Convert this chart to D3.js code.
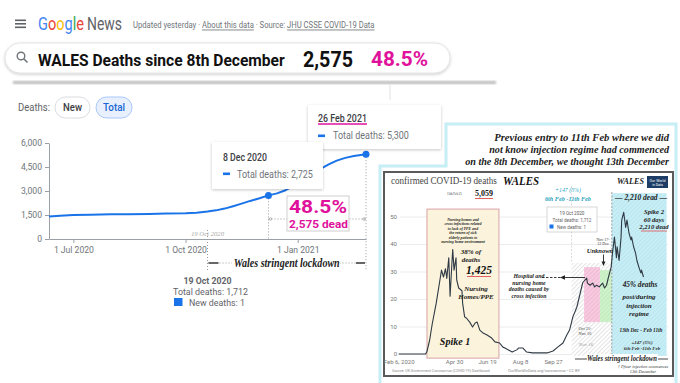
<!DOCTYPE html>
<html><head><meta charset="utf-8">
<script src="https://cdnjs.cloudflare.com/ajax/libs/d3/7.8.5/d3.min.js"></script>
<style>
html,body{margin:0;padding:0;background:#fff;overflow:hidden;}
svg{display:block;}
</style></head><body>
<svg id="c" width="680" height="383"></svg>
<script>
// ===== Main chart (Google News / JHU total deaths, Wales) =====
const mainDates = ["2020-06-11","2020-06-20","2020-07-01","2020-07-15","2020-08-01","2020-08-15","2020-09-01","2020-09-15","2020-10-01","2020-10-10","2020-10-19","2020-10-26","2020-11-02","2020-11-09","2020-11-16","2020-11-23","2020-11-30","2020-12-08","2020-12-15","2020-12-22","2020-12-29","2021-01-05","2021-01-12","2021-01-19","2021-01-26","2021-02-02","2021-02-09","2021-02-16","2021-02-26"];
const mainTotals = [1400,1460,1495,1520,1540,1550,1570,1590,1610,1640,1712,1790,1900,2050,2210,2380,2530,2725,2850,3050,3330,3650,4000,4350,4650,4900,5070,5190,5300];
const mainYTicks = [0,1500,3000,4500,6000];
const mainXTicks = ["2020-07-01","2020-10-01","2021-01-01"];
const mainXTickLabels = ["1 Jul 2020","1 Oct 2020","1 Jan 2021"];
const highlightDates = ["2020-12-08","2021-02-26"];
const highlightTotals = [2725,5300];
const markerDate = "2020-10-19";

// ===== Inset chart (daily confirmed COVID-19 deaths, Wales) =====
const insetDates = ["2020-02-06","2020-03-18","2020-03-20","2020-03-24","2020-03-28","2020-04-03","2020-04-08","2020-04-11","2020-04-14","2020-04-17","2020-04-19","2020-04-22","2020-04-24","2020-04-27","2020-04-28","2020-04-30","2020-05-03","2020-05-04","2020-05-07","2020-05-12","2020-05-13","2020-05-16","2020-05-19","2020-05-24","2020-05-28","2020-06-01","2020-06-04","2020-06-08","2020-06-13","2020-06-19","2020-06-26","2020-07-01","2020-07-08","2020-07-13","2020-07-16","2020-07-27","2020-08-03","2020-08-06","2020-08-12","2020-08-18","2020-08-27","2020-09-07","2020-09-18","2020-09-27","2020-10-04","2020-10-12","2020-10-18","2020-10-22","2020-10-27","2020-11-02","2020-11-07","2020-11-11","2020-11-17","2020-11-18","2020-11-22","2020-11-26","2020-11-29","2020-12-02","2020-12-06","2020-12-11","2020-12-14","2020-12-17","2020-12-20","2020-12-24","2020-12-26","2020-12-29","2021-01-01","2021-01-02","2021-01-05","2021-01-08","2021-01-09","2021-01-12","2021-01-15","2021-01-17","2021-01-20","2021-01-23","2021-01-24","2021-01-27","2021-01-30","2021-02-01","2021-02-04","2021-02-07","2021-02-08","2021-02-11"];
const insetDeaths = [0,0,1,5,11,18.5,26,30.5,28,31,27.5,35,21,34,38,30.5,35,27,24,23,18.5,13.5,13,11.5,9.8,11.3,11.6,8.7,7.6,6.9,5.8,4.4,4,2.5,2.2,0.7,1.5,2.2,2.2,0.7,0.4,0.4,0.4,1.1,2.5,4,7,8.7,13.5,17,22,26,27.6,25.8,25,25.8,24.4,25,24.4,25.8,24,25,28,31.6,36.7,42.5,35,39,34,42.5,48.7,51.5,46,48.7,44,41.5,42.5,39,36.7,34,31.6,29.5,30.5,28];
const insetYTicks = [0,10,20,30,40,50];
const insetXTicks = ["2020-02-06","2020-04-30","2020-06-19","2020-08-08","2020-09-27"];
const insetXTickLabels = ["Feb 6, 2020","Apr 30","Jun 19","Aug 8","Sep 27"];

const parse = d3.timeParse("%Y-%m-%d");
const SANS = "Roboto, 'Liberation Sans', Arial, sans-serif";
const SERIF = "'Liberation Serif', 'DejaVu Serif', serif";
const svg = d3.select("#c");
const defs = svg.append("defs");
const f = defs.append("filter").attr("id","sh").attr("x","-20%").attr("y","-30%").attr("width","140%").attr("height","170%");
f.append("feDropShadow").attr("dx",0).attr("dy",1).attr("stdDeviation",1.6).attr("flood-color","#000").attr("flood-opacity",0.22);
const fb = defs.append("filter").attr("id","blur");
fb.append("feGaussianBlur").attr("stdDeviation",1);

function hatch(id,bg,line,lw,gap){
  const p = defs.append("pattern").attr("id",id).attr("width",gap).attr("height",gap)
    .attr("patternUnits","userSpaceOnUse").attr("patternTransform","rotate(45)");
  p.append("rect").attr("width",gap).attr("height",gap).attr("fill",bg);
  p.append("line").attr("x1",0).attr("y1",0).attr("x2",0).attr("y2",gap).attr("stroke",line).attr("stroke-width",lw);
}
hatch("hGray","#ffffff","#c9c9c9",1,3);
hatch("hPink","#f3bfd8","#fbe2ee",1,3);
hatch("hGreen","#c5eec0","#e5f7e2",1,3);
hatch("hCyan","#bde9f2","#e2f6fa",1,3);

// text helper; o.len squeezes horizontally (transform) to a measured width
function T(p,x,y,s,o={}){
  const t = p.append("text").attr("x",x).attr("y",y).text(s)
    .attr("font-size",o.size||10).attr("fill",o.fill||"#000")
    .attr("font-family",o.family||SANS)
    .attr("font-weight",o.weight||"normal").attr("font-style",o.style||"normal")
    .attr("text-anchor",o.anchor||"start");
  if(o.len){
    const w = t.node().getComputedTextLength();
    if(w>0){ const k=o.len/w; t.attr("transform",`translate(${x},0) scale(${k},1) translate(${-x},0)`); }
  }
  return t;
}

// ---------- Header ----------
const hdr = svg.append("g");
[19.5,23,26.5].forEach(y=>hdr.append("rect").attr("x",15).attr("y",y).attr("width",11).attr("height",1.6).attr("fill","#5f6368"));
const g1 = T(hdr,38,30,"",{size:18});
[["G","#4285F4"],["o","#EA4335"],["o","#FBBC05"],["g","#4285F4"],["l","#34A853"],["e","#EA4335"]]
  .forEach(([c,col])=>g1.append("tspan").attr("fill",col).text(c));
{ const w=g1.node().getComputedTextLength(); g1.attr("transform",`translate(38,0) scale(${46/w},1) translate(-38,0)`); }
T(hdr,87,30,"News",{size:18,fill:"#5f6368",len:35});
const upd = T(hdr,133,28.5,"",{size:8.5,fill:"#70757a"});
upd.append("tspan").text("Updated yesterday · ");
upd.append("tspan").attr("text-decoration","underline").text("About this data");
upd.append("tspan").text(" · Source: ");
upd.append("tspan").attr("text-decoration","underline").text("JHU CSSE COVID-19 Data");
{ const w=upd.node().getComputedTextLength(); upd.attr("transform",`translate(133,0) scale(${242/w},1) translate(-133,0)`); }

// search pill
hdr.append("rect").attr("x",5).attr("y",43).attr("width",445).attr("height",30).attr("rx",15)
  .attr("fill","#fff").attr("stroke","#e3e3e3").attr("filter","url(#sh)");
hdr.append("circle").attr("cx",21).attr("cy",56).attr("r",3.8).attr("fill","none").attr("stroke","#70757a").attr("stroke-width",1.4);
hdr.append("line").attr("x1",23.8).attr("y1",58.8).attr("x2",27.5).attr("y2",62.5).attr("stroke","#70757a").attr("stroke-width",1.6);
T(hdr,38,66,"WALES Deaths since 8th December",{size:17,weight:"bold",fill:"#111",len:247});
T(hdr,303,67,"2,575",{size:22,weight:"bold",fill:"#111",len:50});
T(hdr,371,66,"48.5%",{size:20,weight:"bold",fill:"#e0129c",len:57});

// shadow band below header
hdr.append("rect").attr("x",13).attr("y",81).attr("width",483).attr("height",3).attr("fill","#bcbcbc").attr("filter","url(#blur)");
hdr.append("line").attr("x1",390).attr("y1",85).attr("x2",390).attr("y2",100).attr("stroke","#e2e2e2");

// Deaths toggles
T(hdr,18,111,"Deaths:",{size:10.5,fill:"#5f6368",len:32});
hdr.append("rect").attr("x",55).attr("y",97).attr("width",35).attr("height",21).attr("rx",10.5).attr("fill","#fff").attr("stroke","#dadce0");
T(hdr,72.5,111,"New",{size:10.5,fill:"#3c4043",anchor:"middle",weight:500,len:19});
hdr.append("rect").attr("x",96).attr("y",97).attr("width",36).attr("height",21).attr("rx",10.5).attr("fill","#e8f0fe").attr("stroke","#a8c7fa");
T(hdr,114,111,"Total",{size:10.5,fill:"#1967d2",anchor:"middle",weight:500,len:22});

// ---------- Main chart ----------
const x = d3.scaleTime().domain([parse(mainDates[0]),parse(mainDates[mainDates.length-1])]).range([49,366]);
const y = d3.scaleLinear().domain([0,6000]).range([239,143]);
const main = svg.append("g");

const yAx = main.append("g").attr("transform","translate(49,0)")
  .call(d3.axisLeft(y).tickValues(mainYTicks).tickSize(4).tickPadding(3).tickSizeOuter(0).tickFormat(d3.format(",")));
const xAx = main.append("g").attr("transform","translate(0,239)")
  .call(d3.axisBottom(x).tickValues(mainXTicks.map(parse)).tickSize(4).tickPadding(4).tickSizeOuter(0)
    .tickFormat((d,i)=>mainXTickLabels[i]));
[yAx,xAx].forEach(a=>{
  a.selectAll("path,line").attr("stroke","#9aa0a6");
  a.selectAll("text").attr("fill","#70757a").attr("font-size",8.6).attr("font-family",SANS);
});

const dot = {stroke:"#9a9a9a","stroke-dasharray":"1,2"};
function dl(x1,y1,x2,y2){ const l=main.append("line").attr("x1",x1).attr("y1",y1).attr("x2",x2).attr("y2",y2); Object.entries(dot).forEach(([k,v])=>l.attr(k,v)); return l; }
const xm = x(parse(markerDate));
const hx = highlightDates.map(d=>x(parse(d)));
const hy = highlightTotals.map(v=>y(v));
dl(xm,230,xm,270);
dl(hx[0],hy[0],hx[0],239);
dl(hx[1],hy[1],hx[1],270);
dl(hx[0],219,hx[1],219);
[hx[0]+2,hx[1]-2].forEach(cx=>main.append("circle").attr("cx",cx).attr("cy",219).attr("r",1.3).attr("fill","none").attr("stroke","#999").attr("stroke-width",0.7));
T(main,xm,236,"19 Oct 2020",{size:6.5,family:SERIF,style:"italic",fill:"#a8a8a8",anchor:"middle",len:33});

main.append("path").datum(mainDates.map((d,i)=>[parse(d),mainTotals[i]]))
  .attr("d",d3.line().x(d=>x(d[0])).y(d=>y(d[1])))
  .attr("fill","none").attr("stroke","#1a73e8").attr("stroke-width",2).attr("stroke-linejoin","round");
highlightDates.forEach((d,i)=>main.append("circle").attr("cx",hx[i]).attr("cy",hy[i]).attr("r",3.5).attr("fill","#1a73e8"));

// 48.5% box
main.append("rect").attr("x",287).attr("y",196).attr("width",62).attr("height",35).attr("fill","#fff").attr("stroke","#cfcfcf");
T(main,289,213,"48.5%",{size:18,weight:"bold",fill:"#e0129c",len:58});
T(main,289,228.5,"2,575 dead",{size:11.5,weight:"bold",fill:"#e0129c",len:59});

// lockdown arrow
dl(xm,263,hx[1],263);
main.append("line").attr("x1",xm+1).attr("y1",263).attr("x2",xm+11).attr("y2",263).attr("stroke","#444").attr("stroke-width",1.6);
main.append("line").attr("x1",hx[1]-10).attr("y1",263).attr("x2",hx[1]-1).attr("y2",263).attr("stroke","#444").attr("stroke-width",1.6);
main.append("rect").attr("x",232).attr("y",256).attr("width",108).attr("height",12).attr("fill","#fff");
T(main,(xm+hx[1])/2,267,"Wales stringent lockdown",{size:11.5,family:SERIF,weight:"bold",style:"italic",fill:"#222",anchor:"middle",len:106});

// lower readout
T(main,xm,284,"19 Oct 2020",{size:9.5,weight:"bold",fill:"#5f6368",anchor:"middle",len:48});
T(main,xm+3,295,"Total deaths: 1,712",{size:9,fill:"#5f6368",anchor:"middle",len:75});
main.append("rect").attr("x",174).attr("y",298).attr("width",8.5).attr("height",8).attr("fill","#1a73e8");
T(main,189,306,"New deaths: 1",{size:9,fill:"#5f6368",len:56});

// tooltips
const tt = svg.append("g");
tt.append("rect").attr("x",308).attr("y",105).attr("width",133).attr("height",44).attr("fill","#fff").attr("filter","url(#sh)");
T(tt,318,122,"26 Feb 2021",{size:10.5,weight:500,fill:"#3c4043",len:49});
tt.append("line").attr("x1",318).attr("y1",124).attr("x2",367).attr("y2",124).attr("stroke","#e0129c").attr("stroke-width",1.5);
tt.append("rect").attr("x",318).attr("y",134.5).attr("width",7).attr("height",2.6).attr("fill","#1a73e8");
T(tt,333,139.5,"Total deaths: 5,300",{size:10.5,fill:"#70757a",len:76});
tt.append("rect").attr("x",212).attr("y",142).attr("width",111).attr("height",47).attr("fill","#fff").attr("filter","url(#sh)");
T(tt,223,161,"8 Dec 2020",{size:10.5,weight:500,fill:"#3c4043",len:44});
tt.append("rect").attr("x",223).attr("y",172.5).attr("width",7).attr("height",2.6).attr("fill","#1a73e8");
T(tt,237,178,"Total deaths: 2,725",{size:10.5,fill:"#70757a",len:76});

// ---------- Inset ----------
const ins = svg.append("g");
ins.append("path").attr("d","M380,390V166H446V124H676V390Z").attr("fill","#fff").attr("stroke","#c6eef5").attr("stroke-width",3);
T(ins,669,141,"Previous entry to 11th Feb where we did",{size:10,family:SERIF,weight:"bold",style:"italic",fill:"#222",anchor:"end",len:175});
T(ins,669,153,"not know injection regime had commenced",{size:10,family:SERIF,weight:"bold",style:"italic",fill:"#222",anchor:"end",len:180});
T(ins,669,165,"on the 8th December, we thought 13th December",{size:10,family:SERIF,weight:"bold",style:"italic",fill:"#222",anchor:"end",len:204});
ins.append("rect").attr("x",384).attr("y",172).attr("width",289).attr("height",204).attr("fill","#fff").attr("stroke","#5a5a5a").attr("stroke-width",2);

const ix = d3.scaleTime().domain([parse("2020-02-06"),parse("2021-02-11")]).range([398.6,643.5]);
const iy = d3.scaleLinear().domain([0,50]).range([354,216.5]);

const ig = ins.append("g").attr("transform","translate(400,0)")
  .call(d3.axisLeft(iy).tickValues(insetYTicks).tickSize(-268).tickPadding(3));
ig.select(".domain").remove();
ig.selectAll("line").attr("stroke","#ececec");
ig.selectAll("text").attr("fill","#777").attr("font-size",6).attr("font-family",SANS).attr("dy","0.25em");
const ixa = ins.append("g").attr("transform","translate(0,355)")
  .call(d3.axisBottom(ix).tickValues(insetXTicks.map(parse)).tickSize(0).tickPadding(4.8)
    .tickFormat((d,i)=>insetXTickLabels[i]));
ixa.select(".domain").remove();
ixa.selectAll("text").attr("fill","#777").attr("font-size",6).attr("font-family",SANS);

// annotated periods
const insetBands = [
  ["2020-03-20","2020-07-07",-1.5,52.7,"#fbf3dc","#d9a3a3"],
  ["2020-10-25","2020-12-25",-0.7,33.1,"url(#hGray)","none"],
  ["2020-11-13","2020-12-07",11.6,31.6,"url(#hPink)","none"],
  ["2020-12-07","2020-12-25",11.6,30.5,"url(#hGreen)","none"],
  ["2020-12-25","2021-03-18",-0.7,58.5,"url(#hCyan)","none"]
];
insetBands.forEach(([a,b,lo,hi,fill,st])=>{
  ins.append("rect").attr("x",ix(parse(a))).attr("y",iy(hi)).attr("width",ix(parse(b))-ix(parse(a)))
    .attr("height",iy(lo)-iy(hi)).attr("fill",fill).attr("stroke",st).attr("stroke-width",1);
});
const xd1 = ix(parse("2020-10-25")), xd2 = ix(parse("2020-12-25"));
ins.append("line").attr("x1",xd1).attr("y1",186).attr("x2",xd1).attr("y2",263).attr("stroke","#c8c8c8").attr("stroke-dasharray","2,1.5").attr("stroke-width",0.7);
ins.append("line").attr("x1",xd2).attr("y1",192).attr("x2",xd2).attr("y2",356).attr("stroke","#8a8a8a").attr("stroke-dasharray","2,1.5").attr("stroke-width",0.8);

ins.append("path").datum(insetDates.map((d,i)=>[parse(d),insetDeaths[i]]))
  .attr("d",d3.line().x(d=>ix(d[0])).y(d=>iy(d[1])))
  .attr("fill","none").attr("stroke","#2f3a44").attr("stroke-width",1.1).attr("stroke-linejoin","round");

const SB = {family:SERIF,weight:"bold",style:"italic",fill:"#222",anchor:"middle"};
// title
T(ins,391,184,"confirmed COVID-19 deaths",{size:10.5,family:SERIF,fill:"#444",len:106});
T(ins,503,185.5,"WALES",{size:13.5,family:SERIF,weight:"bold",style:"italic",fill:"#111",len:36});
T(ins,617,184,"WALES",{size:8.5,family:SERIF,weight:"bold",style:"italic",fill:"#222",len:27});
ins.append("rect").attr("x",647).attr("y",176).attr("width",21).attr("height",12).attr("fill","#1d3d66");
T(ins,657.5,181.5,"Our World",{size:3.6,fill:"#fff",anchor:"middle"});
T(ins,657.5,186,"in Data",{size:3.4,fill:"#fff",anchor:"middle"});
T(ins,447,195,"11th Feb 21",{size:5,family:SERIF,fill:"#333",len:15});
T(ins,475,196,"5,059",{size:9,family:SERIF,weight:"bold",fill:"#111",len:18});
ins.append("line").attr("x1",475).attr("y1",198.5).attr("x2",493).attr("y2",198.5).attr("stroke","#e06060").attr("stroke-width",1);
T(ins,568,192.5,"+147 (5%)",{size:6.8,family:SERIF,style:"italic",fill:"#2aa8c4",anchor:"middle",len:26});
T(ins,568,201,"6th Feb -11th Feb",{size:6.8,family:SERIF,weight:"bold",style:"italic",fill:"#2aa3c0",anchor:"middle",len:46});

// inset tooltip
ins.append("rect").attr("x",547).attr("y",207).attr("width",50).attr("height",25).attr("fill","#fff").attr("stroke","#bdbdbd").attr("stroke-width",0.6);
T(ins,572,215,"19 Oct 2020",{size:4.6,fill:"#555",anchor:"middle"});
T(ins,572,222,"Total deaths: 1,712",{size:4.6,fill:"#666",anchor:"middle"});
ins.append("rect").attr("x",549.5).attr("y",224.5).attr("width",4).attr("height",4).attr("fill","#1a73e8");
T(ins,557,228.7,"New deaths: 1",{size:4.6,fill:"#666"});

// spike 1 texts
["Nursing homes and","cross infections related","to lack of PPE and","the return of sick","elderly patients to","nursing home environment"]
  .forEach((s,i)=>T(ins,463,220.5+i*4.5,s,{...SB,size:3.9}));
T(ins,471,254,"38% of",{...SB,size:7});
T(ins,471,262,"deaths",{...SB,size:7});
T(ins,479,274,"1,425",{...SB,size:11.5,fill:"#111"});
ins.append("line").attr("x1",467).attr("y1",276.5).attr("x2",491).attr("y2",276.5).attr("stroke","#e06060").attr("stroke-width",1);
T(ins,476,291,"Nursing",{...SB,size:7});
T(ins,476,299,"Homes/PPE",{...SB,size:7});
T(ins,455,345,"Spike 1",{...SB,size:10,fill:"#111"});

// hospital text + arrow
["Hospital and","nursing home","deaths caused by","cross infection"].forEach((s,i)=>T(ins,529,278+i*6.6,s,{...SB,size:5.8}));
ins.append("line").attr("x1",542).attr("y1",277.5).attr("x2",561).attr("y2",277.5).attr("stroke","#222").attr("stroke-dasharray","2.5,1.5").attr("stroke-width",0.9);
ins.append("line").attr("x1",561).attr("y1",277.5).attr("x2",585).attr("y2",277.5).attr("stroke","#222").attr("stroke-width",0.9);
ins.append("path").attr("d","M560,277.5l5,-2.2v4.4z").attr("fill","#222");

// second wave texts
T(ins,641,200,"— 2,210 dead —",{...SB,size:8.5,len:52});
T(ins,654,214,"Spike 2",{...SB,size:6.6});
T(ins,654,221.5,"60 days",{...SB,size:6.6});
T(ins,654,229,"2,210 dead",{...SB,size:6.6});
ins.append("line").attr("x1",641).attr("y1",231).attr("x2",667).attr("y2",231).attr("stroke","#e06060").attr("stroke-width",0.9);
T(ins,603,240.5,"Nov 17-",{family:SERIF,size:4,fill:"#333",anchor:"middle"});
T(ins,603,245,"12 Dec",{family:SERIF,size:4,fill:"#333",anchor:"middle"});
T(ins,600,252.5,"Unknown",{...SB,size:6.5});
ins.append("line").attr("x1",603.5).attr("y1",254.5).attr("x2",603.5).attr("y2",262).attr("stroke","#222").attr("stroke-width",0.9);
ins.append("path").attr("d","M603.5,266l-2,-4.5h4z").attr("fill","#222");
T(ins,640,287,"45% deaths",{...SB,size:7.3});
T(ins,639,299,"post/during",{...SB,size:7});
T(ins,639,307.5,"injection",{...SB,size:7});
T(ins,639,316,"regime",{...SB,size:7});
T(ins,641,332,"13th Dec - Feb 11th",{...SB,size:7,len:43});
T(ins,642,344,"+147 (5%)",{...SB,size:4.9,fill:"#333"});
T(ins,642,349.5,"6th Feb -11th Feb",{...SB,size:4.9,fill:"#333"});
T(ins,585,330,"Oct 25-",{family:SERIF,size:4.3,fill:"#444",anchor:"middle"});
T(ins,585,335,"Nov 16",{family:SERIF,size:4.3,fill:"#444",anchor:"middle"});
T(ins,586,346,"Nov 16",{family:SERIF,style:"italic",size:5,fill:"#999",anchor:"middle"});

// inset lockdown arrow
ins.append("line").attr("x1",575).attr("y1",359).attr("x2",668).attr("y2",359).attr("stroke","#333").attr("stroke-width",0.9);
ins.append("rect").attr("x",587).attr("y",354).attr("width",71).attr("height",8).attr("fill","#fff");
T(ins,622,361.5,"Wales stringent lockdown",{...SB,size:7.5,len:70});
T(ins,643,368,"† Pfizer injection commences",{family:SERIF,style:"italic",size:4.3,fill:"#333",anchor:"middle"});
T(ins,643,373,"13th December",{family:SERIF,style:"italic",size:4.3,fill:"#333",anchor:"middle"});

// source line
T(ins,392,372,"Source: UK Government Coronavirus (COVID-19) Dashboard",{size:4.3,fill:"#8a8a8a",len:98});
T(ins,508,372,"OurWorldInData.org/coronavirus • CC BY",{size:4.3,fill:"#8a8a8a",len:72});
</script>
</body></html>
